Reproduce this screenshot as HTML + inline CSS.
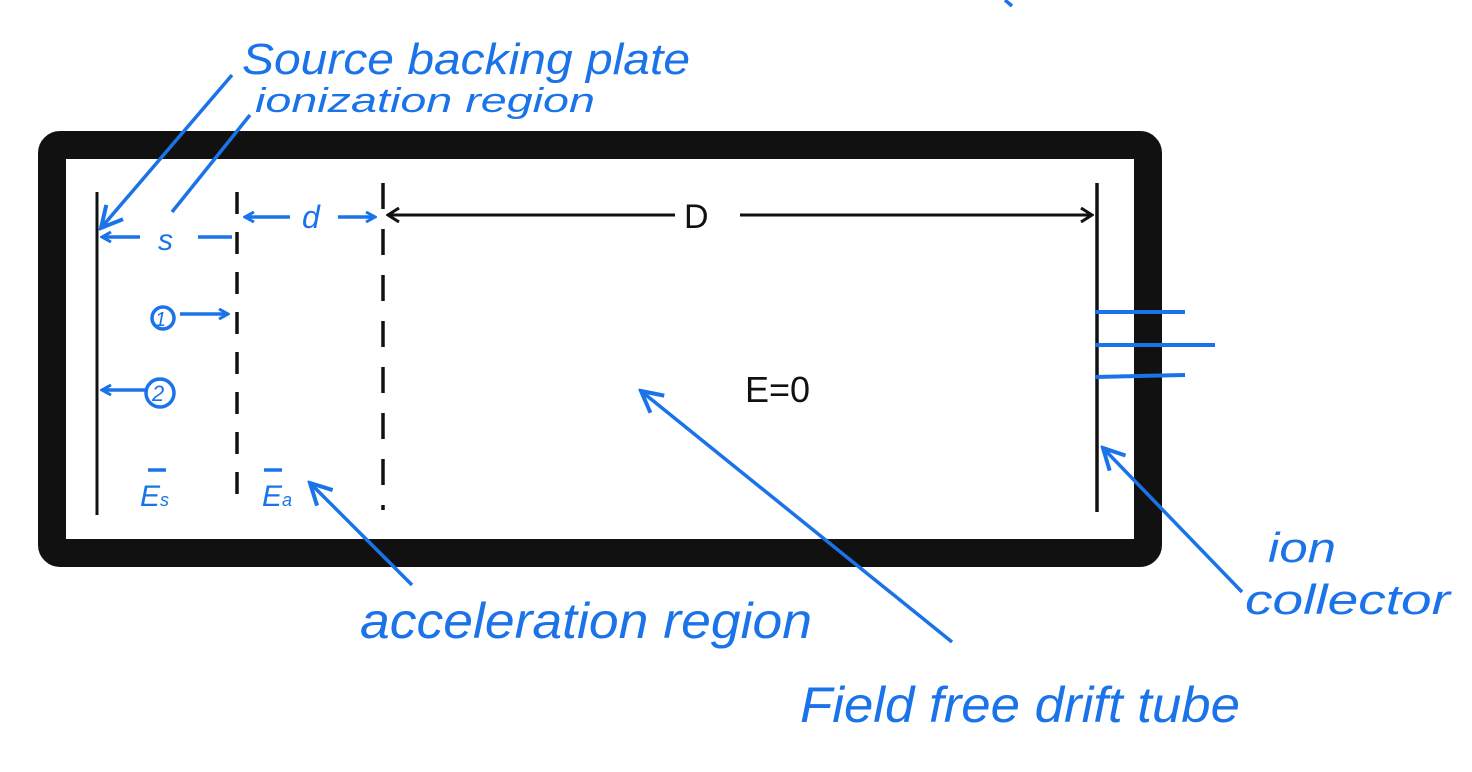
<!DOCTYPE html>
<html><head><meta charset="utf-8"><style>
html,body{margin:0;padding:0;background:#fff;width:1472px;height:772px;overflow:hidden}
svg text{font-family:"Liberation Sans",sans-serif}
.b{fill:#1a73e8;font-style:italic}
</style></head><body>
<svg width="1472" height="772" viewBox="0 0 1472 772">
<defs>
<marker id="ab" markerWidth="12" markerHeight="12" refX="10" refY="6" orient="auto-start-reverse" markerUnits="userSpaceOnUse"><path d="M1,1 L10,6 L1,11" fill="none" stroke="#1a73e8" stroke-width="3"/></marker>
<marker id="ak" markerWidth="14" markerHeight="16" refX="12" refY="8" orient="auto-start-reverse" markerUnits="userSpaceOnUse"><path d="M1,1 L12,8 L1,15" fill="none" stroke="#111" stroke-width="3"/></marker>
<marker id="ah" markerWidth="26" markerHeight="26" refX="23" refY="13" orient="auto-start-reverse" markerUnits="userSpaceOnUse"><path d="M2,2 L23,13 L2,24" fill="none" stroke="#1a73e8" stroke-width="4"/></marker>
</defs>
<rect x="52" y="145" width="1096" height="408" rx="8" fill="none" stroke="#111" stroke-width="28"/>
<line x1="97" y1="192" x2="97" y2="515" stroke="#111" stroke-width="3"/>
<line x1="237" y1="192" x2="237" y2="505" stroke="#111" stroke-width="3.5" stroke-dasharray="22,18"/>
<line x1="383" y1="183" x2="383" y2="510" stroke="#111" stroke-width="3.5" stroke-dasharray="26,20"/>
<line x1="1097" y1="183" x2="1097" y2="512" stroke="#111" stroke-width="3.5"/>
<g stroke="#111" stroke-width="3" fill="none">
<line x1="388" y1="215" x2="675" y2="215" marker-start="url(#ak)"/>
<line x1="740" y1="215" x2="1092" y2="215" marker-end="url(#ak)"/>
</g>
<text x="684" y="228" font-size="34" fill="#111">D</text>
<text x="745" y="402" font-size="36" fill="#111">E=0</text>
<g stroke="#1a73e8" stroke-width="4">
<line x1="1095" y1="312" x2="1185" y2="312"/>
<line x1="1095" y1="345" x2="1215" y2="345"/>
<line x1="1095" y1="377" x2="1185" y2="375"/>
</g>
<g stroke="#1a73e8" stroke-width="3.5" fill="none">
<line x1="232" y1="75" x2="101" y2="228" marker-end="url(#ah)"/>
<line x1="250" y1="115" x2="172" y2="212"/>
<line x1="102" y1="237" x2="140" y2="237" marker-start="url(#ab)"/>
<line x1="198" y1="237" x2="232" y2="237"/>
<line x1="245" y1="217" x2="290" y2="217" marker-start="url(#ab)"/>
<line x1="338" y1="217" x2="375" y2="217" marker-end="url(#ab)"/>
<line x1="180" y1="314" x2="228" y2="314" marker-end="url(#ab)"/>
<circle cx="163" cy="318" r="11"/>
<line x1="102" y1="390" x2="145" y2="390" marker-start="url(#ab)"/>
<circle cx="160" cy="393" r="14"/>
<line x1="412" y1="585" x2="310" y2="483" marker-end="url(#ah)"/>
<line x1="952" y1="642" x2="641" y2="391" marker-end="url(#ah)"/>
<line x1="1242" y1="592" x2="1103" y2="448" marker-end="url(#ah)"/>
<line x1="148" y1="470" x2="166" y2="470"/>
<line x1="264" y1="470" x2="282" y2="470"/>
<line x1="1005" y1="0" x2="1012" y2="6"/>
</g>
<text class="b" x="155" y="326" font-size="20">1</text>
<text class="b" x="152" y="401" font-size="22">2</text>
<text class="b" x="158" y="250" font-size="30">s</text>
<text class="b" x="302" y="228" font-size="32">d</text>
<text class="b" x="140" y="506" font-size="30">E<tspan font-size="18">s</tspan></text>
<text class="b" x="262" y="506" font-size="30">E<tspan font-size="18">a</tspan></text>
<text class="b" x="242" y="74" font-size="44" textLength="448" lengthAdjust="spacingAndGlyphs">Source backing plate</text>
<text class="b" x="255" y="112" font-size="34" textLength="340" lengthAdjust="spacingAndGlyphs">ionization region</text>
<text class="b" x="360" y="638" font-size="50" textLength="452" lengthAdjust="spacingAndGlyphs">acceleration region</text>
<text class="b" x="800" y="722" font-size="50" textLength="440" lengthAdjust="spacingAndGlyphs">Field free drift tube</text>
<text class="b" x="1268" y="562" font-size="42" textLength="68" lengthAdjust="spacingAndGlyphs">ion</text>
<text class="b" x="1245" y="614" font-size="42" textLength="205" lengthAdjust="spacingAndGlyphs">collector</text>
</svg>
</body></html>
